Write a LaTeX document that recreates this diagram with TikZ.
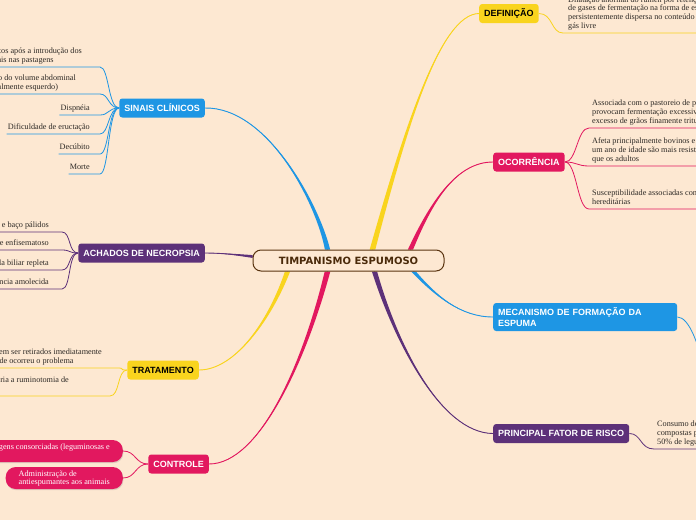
\documentclass[tikz,border=0pt]{standalone}
\usepackage{fontspec}
\setmainfont{Liberation Serif}
\setsansfont{Liberation Sans}
\newfontfamily\titlefont{DejaVu Sans}
\usetikzlibrary{calc,shadows}

\pgfdeclarelayer{back}
\pgfdeclarelayer{links}
\pgfsetlayers{back,links,main}

\tikzset{
    topic/.style={rounded corners=3pt, inner xsep=5pt, minimum height=19pt, text=white,
        font=\sffamily\bfseries\fontsize{9}{11}\selectfont},
    leaf/.style={inner xsep=1pt, inner ysep=1.5pt, text depth=3pt, align=left, text=leafColour,
        font=\fontsize{8.2}{8.7}\selectfont},
    pill/.style={leaf, text=white, fill=pinkColour, rounded corners=10pt, inner xsep=13pt,
        minimum height=22pt, text depth=1pt,
        drop shadow={opacity=0.25, shadow xshift=0.6pt, shadow yshift=-1.2pt}},
    twig/.style={line width=0.8pt}
}

% tapered main branch: colour, start, control 1, control 2, end, half width
\newcommand{\branch}[6]{%
    \fill[#1] ($(#2)+#6$) .. controls ($(#3)+0.5*#6$) and (#4) .. (#5)
        .. controls (#4) and ($(#3)-0.5*#6$) .. ($(#2)-#6$) -- cycle;
    \draw[#1, line width=0.9pt] (#2) .. controls (#3) and (#4) .. (#5);
}

\begin{document}
\begin{tikzpicture}[x=1pt, y=-1pt]
    \definecolor{bgColour}{HTML}{FDE8D2}
    \definecolor{rootColour}{HTML}{5A3410}
    \definecolor{titleColour}{HTML}{4A2A0A}
    \definecolor{yellowColour}{HTML}{F9D41E}
    \definecolor{pinkColour}{HTML}{E2185F}
    \definecolor{blueColour}{HTML}{1E96E4}
    \definecolor{purpleColour}{HTML}{5D3179}
    \definecolor{leafColour}{HTML}{2E2A26}

    % Page
    \begin{pgfonlayer}{back}
        \fill[bgColour] (0,0) rectangle (696,520);
    \end{pgfonlayer}
    \useasboundingbox (0,0) rectangle (696,520);

    % Central topic
    \node[draw=rootColour, line width=1pt, fill=bgColour, rounded corners=8pt,
          minimum width=191pt, minimum height=21pt, text=titleColour,
          font=\titlefont\bfseries\fontsize{10}{12}\selectfont] (root) at (348.5,260.5) {TIMPANISMO ESPUMOSO};

    % Main topics, right side
    \node[topic, fill=yellowColour, text=black, anchor=west] (definicao) at (479,13.5) {DEFINIÇÃO};
    \node[topic, fill=pinkColour, anchor=west] (ocorrencia) at (493,162) {OCORRÊNCIA};
    \node[topic, fill=blueColour, anchor=west, text width=174pt, minimum height=28pt, align=left] (mecanismo) at (493,317) {MECANISMO DE FORMAÇÃO DA\\ESPUMA};
    \node[topic, fill=purpleColour, anchor=west] (fator) at (493,433.5) {PRINCIPAL FATOR DE RISCO};

    % Main topics, left side
    \node[topic, fill=blueColour, anchor=east] (sinais) at (205,108) {SINAIS CLÍNICOS};
    \node[topic, fill=purpleColour, anchor=east] (achados) at (205,253) {ACHADOS DE NECROPSIA};
    \node[topic, fill=yellowColour, text=black, anchor=east] (tratamento) at (199,370) {TRATAMENTO};
    \node[topic, fill=pinkColour, anchor=east] (controle) at (209,464) {CONTROLE};

    % Leaves, right side
    \node[leaf, anchor=south west] (defText) at (567,33) {Dilatação anormal do rúmen por retenção\\de gases de fermentação na forma de espuma\\persistentemente dispersa no conteúdo ruminal, ao invés de\\gás livre};
    \node[leaf, anchor=south west] (occ1) at (591,128) {Associada com o pastoreio de plantas que\\provocam fermentação excessiva ou\\excesso de grãos finamente triturados};
    \node[leaf, anchor=south west] (occ2) at (591,166) {Afeta principalmente bovinos e ovinos; animais com menos de\\um ano de idade são mais resistentes\\que os adultos};
    \node[leaf, anchor=south west] (occ3) at (591,209) {Susceptibilidade associadas com características\\hereditárias};
    \node[leaf, anchor=south west] (fat1) at (656,449) {Consumo de pastagens\\compostas por mais de\\50\% de leguminosas};
    \coordinate (mecOff) at (705,372);

    % Leaves, left side
    \node[leaf, anchor=south east] (sin1) at (83,67) {Minutos após a introdução dos\\animais nas pastagens};
    \node[leaf, anchor=south east] (sin2) at (77,94) {Aumento do volume abdominal\\(principalmente esquerdo)};
    \node[leaf, anchor=south east] (sin3) at (91,115) {Dispnéia};
    \node[leaf, anchor=south east] (sin4) at (91,134) {Dificuldade de eructação};
    \node[leaf, anchor=south east] (sin5) at (91,154) {Decúbito};
    \node[leaf, anchor=south east] (sin6) at (91,174) {Morte};

    \node[leaf, anchor=south east] (ach1) at (50,232) {Fígado e baço pálidos};
    \node[leaf, anchor=south east] (ach2) at (50,250) {Pulmão congesto e enfisematoso};
    \node[leaf, anchor=south east] (ach3) at (50,270) {Vesícula biliar repleta};
    \node[leaf, anchor=south east] (ach4) at (50,289) {Mucosa com consistência amolecida};

    \node[leaf, anchor=south east] (tra1) at (103,368) {Os animais devem ser retirados imediatamente\\da pastagem onde ocorreu o problema};
    \node[leaf, anchor=south east] (tra2) at (70,396) {Em casos graves seria necessária a ruminotomia de\\emergência};

    \node[pill, anchor=east] (con1) at (123,451) {Utilizar pastagens consorciadas (leguminosas e\\gramíneas)};
    \node[pill, anchor=east] (con2) at (123,478) {Administração de\\antiespumantes aos animais};

    % Branch start points on the central topic
    \coordinate (bSinais) at ([xshift=-21pt]root.north);
    \coordinate (bDef) at ([xshift=24pt]root.north);
    \coordinate (bOcc) at ([xshift=62pt]root.north);
    \coordinate (bMec) at ([xshift=65pt]root.south);
    \coordinate (bFator) at ([xshift=26pt]root.south);
    \coordinate (bTrat) at ([xshift=-61pt]root.south);
    \coordinate (bCtrl) at ([xshift=-21pt]root.south);
    \coordinate (bAch) at ([yshift=4pt]root.west);

    \begin{pgfonlayer}{links}
        % Draw main branches
        \branch{blueColour}{bSinais}{318,205}{268,107}{sinais.east}{(2.6,0)}
        \branch{yellowColour}{bDef}{405,130}{440,14}{definicao.west}{(2.8,0)}
        \branch{pinkColour}{bOcc}{430,205}{455,162}{ocorrencia.west}{(2.6,0)}
        \branch{blueColour}{bMec}{435,295}{460,317}{mecanismo.west}{(2.4,0)}
        \branch{purpleColour}{bFator}{395,340}{440,433}{fator.west}{(2.6,0)}
        \branch{yellowColour}{bTrat}{270,320}{235,370}{tratamento.east}{(2.6,0)}
        \branch{pinkColour}{bCtrl}{305,360}{260,464}{controle.east}{(2.8,0)}
        \branch{purpleColour}{bAch}{235,254.5}{220,253}{achados.east}{(0,1.4)}

        % Draw leaf connectors, right side
        \draw[twig, yellowColour] (definicao.east) .. controls +(14,0) and +(-12,0) .. ([xshift=-4pt]defText.south west) -- (defText.south east);
        \foreach \n in {occ1,occ2,occ3}
            \draw[twig, pinkColour] (ocorrencia.east) .. controls +(12,0) and +(-12,0) .. ([xshift=-2pt]\n.south west) -- (\n.south east);
        \draw[twig, blueColour] (mecanismo.east) .. controls +(12,0) and +(-6,-26) .. (mecOff);
        \draw[twig, purpleColour] (fator.east) .. controls +(12,0) and +(-14,0) .. ([xshift=-2pt]fat1.south west) -- (fat1.south east);

        % Draw leaf connectors, left side
        \foreach \n/\s in {sin1/17,sin2/23,sin3/9,sin4/9,sin5/9,sin6/9}
            \draw[twig, blueColour] (sinais.west) .. controls +(-11,0) and +(9,0) .. ([xshift=\s pt]\n.south east) -- (\n.south west);
        \foreach \n in {ach1,ach2,ach3,ach4}
            \draw[twig, purpleColour] (achados.west) .. controls +(-10,0) and +(9,0) .. ([xshift=12pt]\n.south east) -- (\n.south west);
        \foreach \n/\s in {tra1/14,tra2/40}
            \draw[twig, yellowColour] (tratamento.west) .. controls +(-10,0) and +(10,0) .. ([xshift=\s pt]\n.south east) -- (\n.south west);
        \foreach \n in {con1,con2}
            \draw[twig, pinkColour] (controle.west) .. controls +(-13,0) and +(13,0) .. (\n.east);
    \end{pgfonlayer}

\end{tikzpicture}
\end{document}
